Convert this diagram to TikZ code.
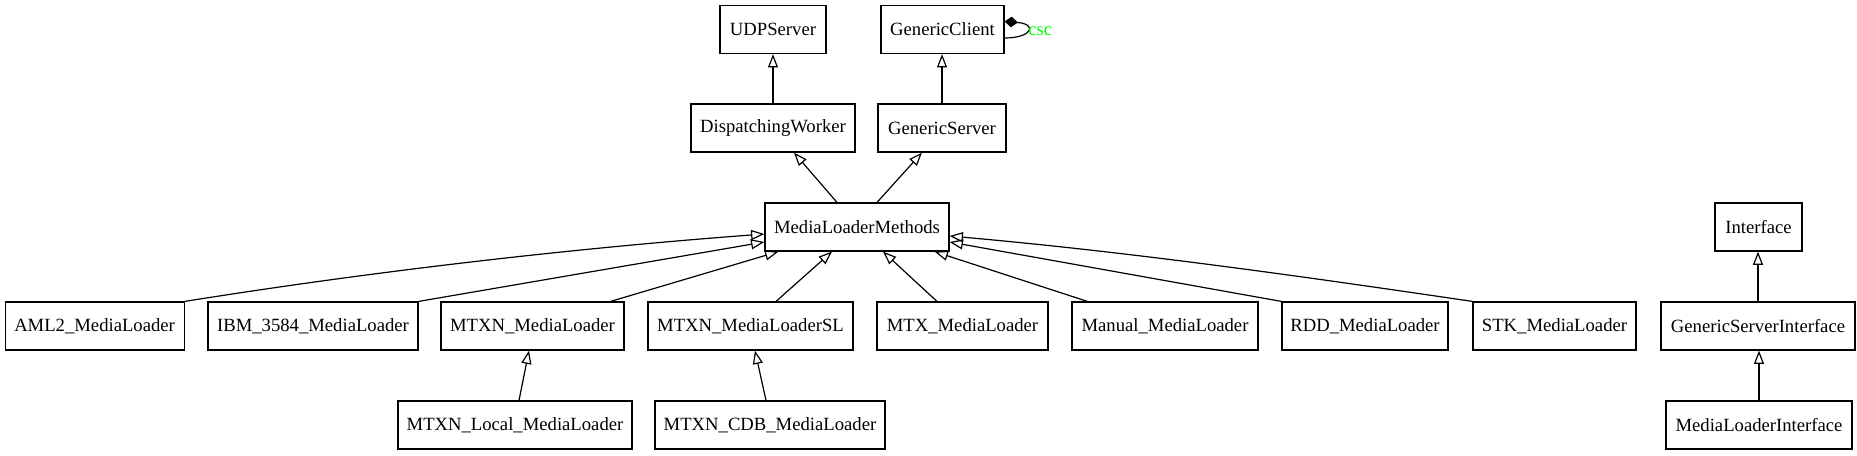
\documentclass[tikz,border=0pt]{standalone}
\usepackage{fontspec}
\setmainfont{Liberation Serif}
\usetikzlibrary{arrows.meta,calc}
\begin{document}
\begin{tikzpicture}[x=0.75pt,y=-0.75pt,
  cls/.style={draw=black,line width=0.9pt,minimum height=36pt,inner sep=0pt,
    font=\fontsize{14pt}{16pt}\selectfont},
  inh/.style={line width=0.9pt,-{Triangle[open,length=10pt,width=7.5pt,line width=0.9pt]}},
  lbl/.style={text=green,font=\fontsize{14pt}{16pt}\selectfont,inner sep=0pt}]
\useasboundingbox (0,0) rectangle (1857,455);
% row 1
\node[cls,minimum width=79.5pt] (udp) at (773,29.5) {UDPServer};
\node[cls,minimum width=92.25pt] (gc) at (942.5,29.5) {GenericClient};
% row 2
\node[cls,minimum width=123pt] (dw) at (773,128) {DispatchingWorker};
\node[cls,minimum width=96pt] (gs) at (942,128) {GenericServer};
% row 3
\node[cls,minimum width=138pt] (mlm) at (857,227) {MediaLoaderMethods};
\node[cls,minimum width=65.25pt] (iface) at (1758.5,227) {Interface};
% row 4
\node[cls,minimum width=134.25pt] (aml2) at (94.6,326) {AML2\_MediaLoader};
\node[cls,minimum width=157.5pt] (ibm) at (313,326) {IBM\_3584\_MediaLoader};
\node[cls,minimum width=137.25pt] (mtxn) at (532.5,326) {MTXN\_MediaLoader};
\node[cls,minimum width=153.75pt] (mtxnsl) at (750.5,326) {MTXN\_MediaLoaderSL};
\node[cls,minimum width=128.25pt] (mtx) at (962.5,326) {MTX\_MediaLoader};
\node[cls,minimum width=139.5pt] (manual) at (1165,326) {Manual\_MediaLoader};
\node[cls,minimum width=124.5pt] (rdd) at (1365,326) {RDD\_MediaLoader};
\node[cls,minimum width=122.25pt] (stk) at (1554.5,326) {STK\_MediaLoader};
\node[cls,minimum width=145.5pt] (gsi) at (1758,326) {GenericServerInterface};
% row 5
\node[cls,minimum width=175.5pt] (local) at (515,425) {MTXN\_Local\_MediaLoader};
\node[cls,minimum width=172.5pt] (cdb) at (770,425) {MTXN\_CDB\_MediaLoader};
\node[cls,minimum width=139.5pt] (mli) at (1759,425) {MediaLoaderInterface};
% edges
\draw[inh] (dw.north) -- (udp.south);
\draw[inh] (gs.north) -- (gs.north |- gc.south);
\draw[inh] ($(mlm.north)+(-20,0)$) -- ($(dw.south)+(21,0)$);
\draw[inh] ($(mlm.north)+(20,0)$) -- ($(gs.south)+(-20,0)$);
\draw[inh] (aml2.north east) .. controls (350,275) and (550,250) .. ($(mlm.west)+(0,7)$);
\draw[inh] (ibm.north east) -- ($(mlm.west)+(0,15)$);
\draw[inh] ($(mtxn.north east)+(-14,0)$) -- ($(mlm.south west)+(14,0)$);
\draw[inh] ($(mtxnsl.north)+(25.5,0)$) -- ($(mlm.south)+(-25,0)$);
\draw[inh] ($(mtx.north)+(-25.5,0)$) -- ($(mlm.south)+(26,0)$);
\draw[inh] ($(manual.north west)+(16,0)$) -- ($(mlm.south east)+(-15,0)$);
\draw[inh] (rdd.north west) -- ($(mlm.east)+(0,15)$);
\draw[inh] (stk.north west) .. controls (1300,276) and (1130,252) .. ($(mlm.east)+(0,9)$);
\draw[inh] ($(local.north)+(4,0)$) -- ($(mtxn.south)+(-3.5,0)$);
\draw[inh] ($(cdb.north)+(-4,0)$) -- ($(mtxnsl.south)+(4.5,0)$);
\draw[inh] (gsi.north) -- (gsi.north |- iface.south);
\draw[inh] (mli.north) -- (mli.north |- gsi.south);
% self loop
\coordinate (lp1) at ($(gc.east)+(0,-8)$);
\coordinate (lp2) at ($(gc.east)+(0,8.5)$);
\draw[line width=0.9pt,{Diamond[length=10pt,width=8pt,fill=black]}-] (lp1) .. controls (1038,24) and (1032,38) .. (lp2);
\node[lbl,anchor=west] (csc) at (1028,31) {csc};
\end{tikzpicture}
\end{document}
